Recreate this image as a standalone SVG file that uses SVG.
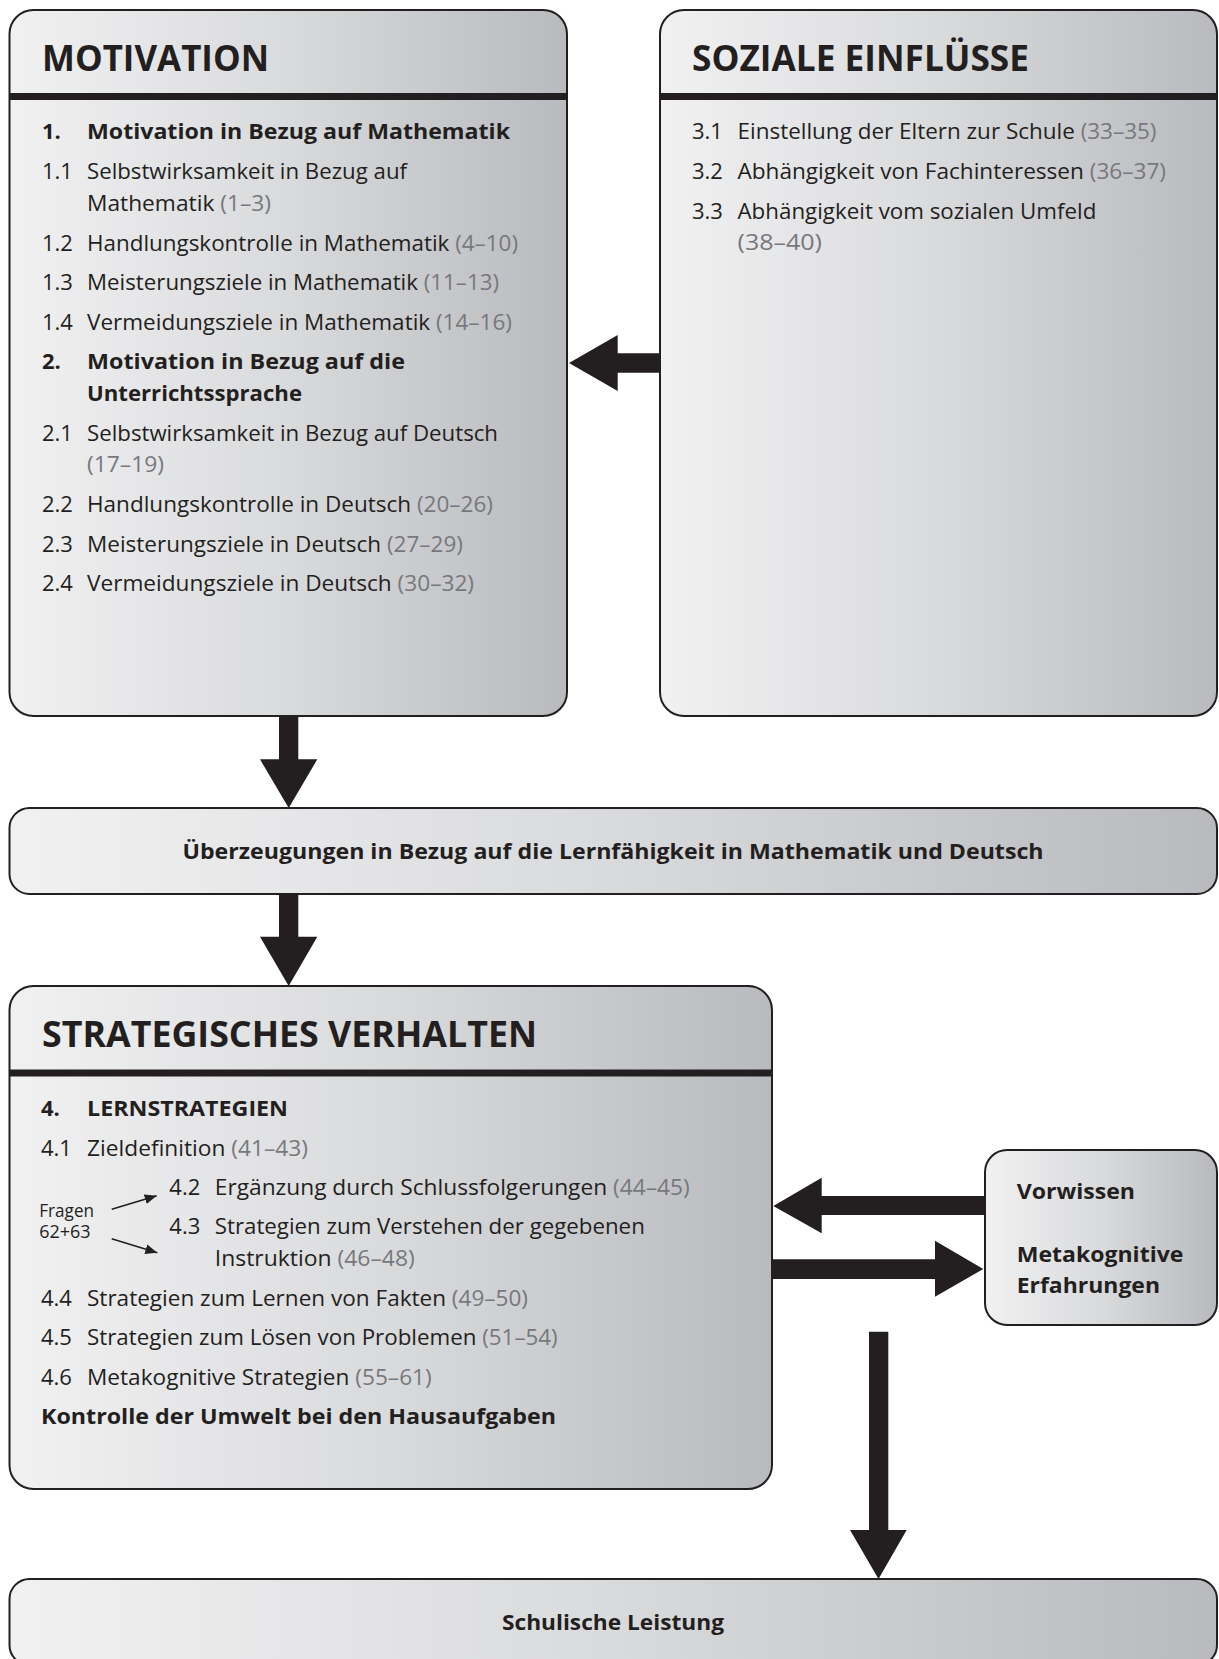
<svg xmlns="http://www.w3.org/2000/svg" width="1219" height="1659" viewBox="0 0 1219 1659">
<defs>
<linearGradient id="g" x1="0" y1="0" x2="1" y2="0">
<stop offset="0" stop-color="#f1f1f2"/>
<stop offset="0.5" stop-color="#d9dadc"/>
<stop offset="1" stop-color="#b9babd"/>
</linearGradient>
<marker id="ah" viewBox="0 0 12 10" refX="12" refY="5" markerWidth="12" markerHeight="10" markerUnits="userSpaceOnUse" orient="auto">
<path d="M0,0 L12,5 L0,10 Z" fill="#231f20"/>
</marker>
<style>
.box{fill:url(#g);stroke:#231f20;stroke-width:2}
.hl{stroke:#231f20;stroke-width:7}
.t{font-family:"Open Sans","Noto Sans","Liberation Sans",sans-serif;fill:#231f20}
.h{font-size:36px;font-weight:700}
.r{font-size:22px;font-weight:400}
.b{font-size:22px;font-weight:700}
.g{fill:#77787b}
.s{font-size:17.5px;font-weight:400}
.arr{fill:#231f20}
</style>
</defs>

<g id="motivation">
<rect class="box" x="9.5" y="10" width="557.5" height="706" rx="24"/>
<line class="hl" x1="9.5" y1="96.4" x2="567" y2="96.4"/>
<text class="t h" x="42" y="70.7" textLength="227" lengthAdjust="spacingAndGlyphs">MOTIVATION</text>
<text class="t b" x="42" y="139.3">1.</text>
<text class="t b" x="87" y="139.3" textLength="423" lengthAdjust="spacingAndGlyphs">Motivation in Bezug auf Mathematik</text>
<text class="t r" x="42" y="179">1.1</text>
<text class="t r" x="87" y="179" textLength="320" lengthAdjust="spacingAndGlyphs">Selbstwirksamkeit in Bezug auf</text>
<text class="t r" x="87" y="211" textLength="184" lengthAdjust="spacingAndGlyphs">Mathematik <tspan class="g">(1–3)</tspan></text>
<text class="t r" x="42" y="250.5">1.2</text>
<text class="t r" x="87" y="250.5" textLength="431" lengthAdjust="spacingAndGlyphs">Handlungskontrolle in Mathematik <tspan class="g">(4–10)</tspan></text>
<text class="t r" x="42" y="290">1.3</text>
<text class="t r" x="87" y="290" textLength="412" lengthAdjust="spacingAndGlyphs">Meisterungsziele in Mathematik <tspan class="g">(11–13)</tspan></text>
<text class="t r" x="42" y="329.5">1.4</text>
<text class="t r" x="87" y="329.5" textLength="425" lengthAdjust="spacingAndGlyphs">Vermeidungsziele in Mathematik <tspan class="g">(14–16)</tspan></text>
<text class="t b" x="42" y="369">2.</text>
<text class="t b" x="87" y="369" textLength="318" lengthAdjust="spacingAndGlyphs">Motivation in Bezug auf die</text>
<text class="t b" x="87" y="401" textLength="215" lengthAdjust="spacingAndGlyphs">Unterrichtssprache</text>
<text class="t r" x="42" y="440.5">2.1</text>
<text class="t r" x="87" y="440.5" textLength="411" lengthAdjust="spacingAndGlyphs">Selbstwirksamkeit in Bezug auf Deutsch</text>
<text class="t r g" x="87" y="472" textLength="77" lengthAdjust="spacingAndGlyphs">(17–19)</text>
<text class="t r" x="42" y="512">2.2</text>
<text class="t r" x="87" y="512" textLength="406" lengthAdjust="spacingAndGlyphs">Handlungskontrolle in Deutsch <tspan class="g">(20–26)</tspan></text>
<text class="t r" x="42" y="551.5">2.3</text>
<text class="t r" x="87" y="551.5" textLength="376" lengthAdjust="spacingAndGlyphs">Meisterungsziele in Deutsch <tspan class="g">(27–29)</tspan></text>
<text class="t r" x="42" y="591">2.4</text>
<text class="t r" x="87" y="591" textLength="387" lengthAdjust="spacingAndGlyphs">Vermeidungsziele in Deutsch <tspan class="g">(30–32)</tspan></text>
</g>

<g id="soziale">
<rect class="box" x="660" y="10" width="557" height="706" rx="24"/>
<line class="hl" x1="660" y1="96.4" x2="1217" y2="96.4"/>
<text class="t h" x="692" y="70.7" textLength="337" lengthAdjust="spacingAndGlyphs">SOZIALE EINFLÜSSE</text>
<text class="t r" x="692" y="139.3">3.1</text>
<text class="t r" x="737.5" y="139.3" textLength="419" lengthAdjust="spacingAndGlyphs">Einstellung der Eltern zur Schule <tspan class="g">(33–35)</tspan></text>
<text class="t r" x="692" y="179">3.2</text>
<text class="t r" x="737.5" y="179" textLength="428.5" lengthAdjust="spacingAndGlyphs">Abhängigkeit von Fachinteressen <tspan class="g">(36–37)</tspan></text>
<text class="t r" x="692" y="218.5">3.3</text>
<text class="t r" x="737.5" y="218.5" textLength="358.8" lengthAdjust="spacingAndGlyphs">Abhängigkeit vom sozialen Umfeld</text>
<text class="t r g" x="737.5" y="250" textLength="84.5" lengthAdjust="spacingAndGlyphs">(38–40)</text>
</g>

<g id="ueberzeugungen">
<rect class="box" x="9.5" y="808" width="1207.5" height="86" rx="20"/>
<text class="t b" x="613" y="858.5" text-anchor="middle" textLength="861" lengthAdjust="spacingAndGlyphs">Überzeugungen in Bezug auf die Lernfähigkeit in Mathematik und Deutsch</text>
</g>

<g id="strategisches">
<rect class="box" x="9.5" y="986" width="762.5" height="503" rx="24"/>
<line class="hl" x1="9.5" y1="1073" x2="772" y2="1073"/>
<text class="t h" x="42" y="1047" textLength="495" lengthAdjust="spacingAndGlyphs">STRATEGISCHES VERHALTEN</text>
<text class="t b" x="41" y="1116">4.</text>
<text class="t b" x="87" y="1116" textLength="201" lengthAdjust="spacingAndGlyphs">LERNSTRATEGIEN</text>
<text class="t r" x="41" y="1155.5">4.1</text>
<text class="t r" x="87" y="1155.5" textLength="221" lengthAdjust="spacingAndGlyphs">Zieldefinition <tspan class="g">(41–43)</tspan></text>
<text class="t s" x="39.3" y="1217.3" textLength="54.7" lengthAdjust="spacingAndGlyphs">Fragen</text>
<text class="t s" x="39.3" y="1238.3" textLength="51.3" lengthAdjust="spacingAndGlyphs">62+63</text>
<text class="t r" x="169.3" y="1195">4.2</text>
<text class="t r" x="214.8" y="1195" textLength="475" lengthAdjust="spacingAndGlyphs">Ergänzung durch Schlussfolgerungen <tspan class="g">(44–45)</tspan></text>
<text class="t r" x="169.3" y="1233.5">4.3</text>
<text class="t r" x="214.8" y="1233.5" textLength="430" lengthAdjust="spacingAndGlyphs">Strategien zum Verstehen der gegebenen</text>
<text class="t r" x="214.8" y="1266" textLength="200" lengthAdjust="spacingAndGlyphs">Instruktion <tspan class="g">(46–48)</tspan></text>
<text class="t r" x="41" y="1305.5">4.4</text>
<text class="t r" x="87" y="1305.5" textLength="441" lengthAdjust="spacingAndGlyphs">Strategien zum Lernen von Fakten <tspan class="g">(49–50)</tspan></text>
<text class="t r" x="41" y="1345">4.5</text>
<text class="t r" x="87" y="1345" textLength="470.7" lengthAdjust="spacingAndGlyphs">Strategien zum Lösen von Problemen <tspan class="g">(51–54)</tspan></text>
<text class="t r" x="41" y="1384.5">4.6</text>
<text class="t r" x="87" y="1384.5" textLength="344.7" lengthAdjust="spacingAndGlyphs">Metakognitive Strategien <tspan class="g">(55–61)</tspan></text>
<text class="t b" x="41" y="1424" textLength="515" lengthAdjust="spacingAndGlyphs">Kontrolle der Umwelt bei den Hausaufgaben</text>
</g>

<g id="vorwissen">
<rect class="box" x="985" y="1150" width="232" height="175" rx="22"/>
<text class="t b" x="1016.7" y="1199.3" textLength="118.3" lengthAdjust="spacingAndGlyphs">Vorwissen</text>
<text class="t b" x="1016.7" y="1262.3" textLength="166.7" lengthAdjust="spacingAndGlyphs">Metakognitive</text>
<text class="t b" x="1016.7" y="1292.7" textLength="143.3" lengthAdjust="spacingAndGlyphs">Erfahrungen</text>
</g>

<g id="schulische">
<rect class="box" x="9.5" y="1579" width="1207.5" height="86" rx="20"/>
<text class="t b" x="613" y="1630" text-anchor="middle" textLength="222" lengthAdjust="spacingAndGlyphs">Schulische Leistung</text>
</g>

<g id="connectors">
<polygon class="arr" points="660,353.3 617.7,353.3 617.7,335 569,363 617.7,391 617.7,372.7 660,372.7"/>
<polygon class="arr" points="279,716 298.3,716 298.3,759.3 317.3,759.3 288.7,808 260,759.3 279,759.3"/>
<polygon class="arr" points="279,894 298.3,894 298.3,936.7 317.3,936.7 288.7,986 260,936.7 279,936.7"/>
<polygon class="arr" points="985,1196 821.7,1196 821.7,1177.7 773.3,1206 821.7,1233.3 821.7,1215 985,1215"/>
<polygon class="arr" points="772.3,1259.3 935,1259.3 935,1240.7 983.3,1269 935,1296.7 935,1279 772.3,1279"/>
<polygon class="arr" points="869,1331.7 888.3,1331.7 888.3,1530 906.7,1530 878.5,1579 850,1530 869,1530"/>
<line x1="111.7" y1="1209.3" x2="156.7" y2="1195.7" stroke="#231f20" stroke-width="1.6" marker-end="url(#ah)"/>
<line x1="111.7" y1="1238.7" x2="157.3" y2="1252.7" stroke="#231f20" stroke-width="1.6" marker-end="url(#ah)"/>
</g>
</svg>
